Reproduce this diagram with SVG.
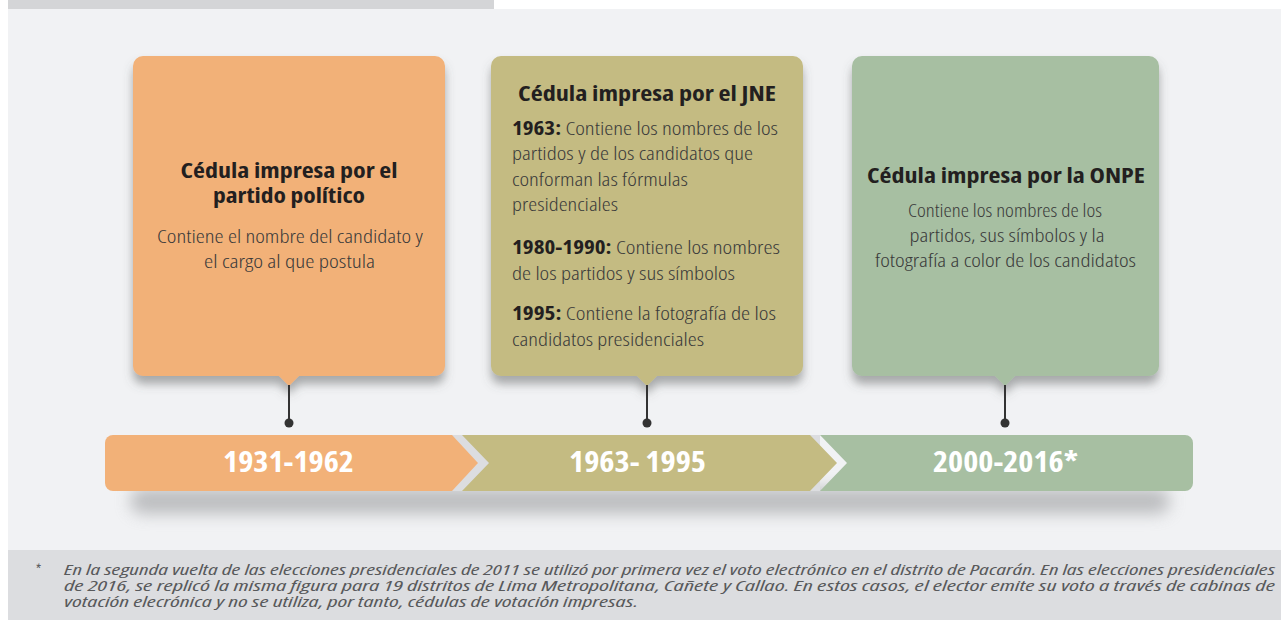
<svg xmlns="http://www.w3.org/2000/svg" width="1281" height="620" viewBox="0 0 1281 620">
<defs>
<filter id="sh" x="-10%" y="-10%" width="120%" height="130%">
<feDropShadow dx="0" dy="8" stdDeviation="5" flood-color="#5d5e61" flood-opacity="0.5"/>
</filter>
<filter id="blur" x="-20%" y="-100%" width="140%" height="300%">
<feGaussianBlur stdDeviation="8"/>
</filter>
<style>
.t{font-family:"Open Sans","Liberation Sans",sans-serif;font-stretch:condensed;font-weight:700;font-size:21px;fill:#231f20;text-anchor:middle}
.b{font-family:"Open Sans","Liberation Sans",sans-serif;font-stretch:condensed;font-weight:300;font-size:19px;fill:#3a3a3a}
.c{text-anchor:middle}
.bb{font-weight:700;fill:#231f20}
.y{font-family:"Open Sans","Liberation Sans",sans-serif;font-stretch:condensed;font-weight:700;font-size:28px;fill:#ffffff;text-anchor:middle}
.f{font-family:"Open Sans","Liberation Sans",sans-serif;font-stretch:semi-condensed;font-style:italic;font-size:14.5px;fill:#58595b}
.ln{stroke:#333333;stroke-width:2}
.dot{fill:#333333}
</style>
</defs>
<rect x="0" y="0" width="1281" height="620" fill="#ffffff"/>
<rect x="8" y="0" width="486" height="9" fill="#d4d5d7"/>
<rect x="8" y="9" width="1273" height="541" fill="#f1f2f4"/>
<rect x="8" y="550" width="1273" height="70" fill="#dcdde0"/>

<g id="node-1931">
<g filter="url(#sh)">
<rect x="133" y="56" width="312" height="320" rx="10" fill="#f2b178"/>
<polygon points="278,375 300,375 289,386" fill="#f2b178"/>
</g>
<text class="t" x="289" y="178" textLength="217" lengthAdjust="spacingAndGlyphs">Cédula impresa por el</text>
<text class="t" x="289" y="203" textLength="152" lengthAdjust="spacingAndGlyphs">partido político</text>
<text class="b c" x="290" y="243" textLength="266" lengthAdjust="spacingAndGlyphs">Contiene el nombre del candidato y</text>
<text class="b c" x="289.5" y="268" textLength="171" lengthAdjust="spacingAndGlyphs">el cargo al que postula</text>
</g>

<g id="node-1963">
<g filter="url(#sh)">
<rect x="491" y="56" width="312" height="320" rx="10" fill="#c4bb82"/>
<polygon points="636,375 658,375 647,386" fill="#c4bb82"/>
</g>
<text class="t" x="647" y="101" textLength="258" lengthAdjust="spacingAndGlyphs">Cédula impresa por el JNE</text>
<text class="b" x="512" y="135" textLength="266" lengthAdjust="spacingAndGlyphs"><tspan class="bb">1963:</tspan> Contiene los nombres de los</text>
<text class="b" x="512" y="160" textLength="241" lengthAdjust="spacingAndGlyphs">partidos y de los candidatos que</text>
<text class="b" x="512" y="186" textLength="176" lengthAdjust="spacingAndGlyphs">conforman las fórmulas</text>
<text class="b" x="512" y="211" textLength="106" lengthAdjust="spacingAndGlyphs">presidenciales</text>
<text class="b" x="512" y="254" textLength="268" lengthAdjust="spacingAndGlyphs"><tspan class="bb">1980-1990:</tspan> Contiene los nombres</text>
<text class="b" x="512" y="280" textLength="223" lengthAdjust="spacingAndGlyphs">de los partidos y sus símbolos</text>
<text class="b" x="512" y="320" textLength="264" lengthAdjust="spacingAndGlyphs"><tspan class="bb">1995:</tspan> Contiene la fotografía de los</text>
<text class="b" x="512" y="346" textLength="192" lengthAdjust="spacingAndGlyphs">candidatos presidenciales</text>
</g>

<g id="node-2000">
<g filter="url(#sh)">
<rect x="852" y="56" width="307" height="320" rx="10" fill="#a7bfa2"/>
<polygon points="994,375 1016,375 1005,386" fill="#a7bfa2"/>
</g>
<text class="t" x="1006" y="183" textLength="278" lengthAdjust="spacingAndGlyphs">Cédula impresa por la ONPE</text>
<text class="b c" x="1005" y="217" textLength="194" lengthAdjust="spacingAndGlyphs">Contiene los nombres de los</text>
<text class="b c" x="1007" y="242" textLength="195" lengthAdjust="spacingAndGlyphs">partidos, sus símbolos y la</text>
<text class="b c" x="1005.5" y="267" textLength="261" lengthAdjust="spacingAndGlyphs">fotografía a color de los candidatos</text>
</g>

<g id="timeline">
<rect x="130" y="488" width="1040" height="26" rx="13" fill="#9a9b9e" opacity="0.6" filter="url(#blur)"/>
<rect x="452" y="435" width="368" height="56" fill="#dcdde0"/>
<path d="M113,435 H452 L478,463 L452,491 H113 A8,8 0 0 1 105,483 V443 A8,8 0 0 1 113,435 Z" fill="#f2b178"/>
<path d="M462,435 H810 L837,463 L810,491 H462 L489,463 Z" fill="#c4bb82"/>
<path d="M820,435 H1185 A8,8 0 0 1 1193,443 V483 A8,8 0 0 1 1185,491 H820 L847,463 Z" fill="#a7bfa2"/>
<text class="y" x="288.5" y="472" textLength="131" lengthAdjust="spacingAndGlyphs">1931-1962</text>
<text class="y" x="637.5" y="472" textLength="137" lengthAdjust="spacingAndGlyphs">1963- 1995</text>
<text class="y" x="1005.5" y="472" textLength="145" lengthAdjust="spacingAndGlyphs">2000-2016*</text>
</g>

<g id="connectors">
<line class="ln" x1="289" y1="385" x2="289" y2="423"/>
<circle class="dot" cx="289" cy="423" r="4.5"/>
<line class="ln" x1="647" y1="385" x2="647" y2="423"/>
<circle class="dot" cx="647" cy="423" r="4.5"/>
<line class="ln" x1="1005" y1="385" x2="1005" y2="423"/>
<circle class="dot" cx="1005" cy="423" r="4.5"/>
</g>

<g id="footnote">
<text class="f" x="35" y="575">*</text>
<text class="f" x="64" y="575" textLength="1211" lengthAdjust="spacingAndGlyphs">En la segunda vuelta de las elecciones presidenciales de 2011 se utilizó por primera vez el voto electrónico en el distrito de Pacarán. En las elecciones presidenciales</text>
<text class="f" x="64" y="591" textLength="1211" lengthAdjust="spacingAndGlyphs">de 2016, se replicó la misma figura para 19 distritos de Lima Metropolitana, Cañete y Callao. En estos casos, el elector emite su voto a través de cabinas de</text>
<text class="f" x="64" y="607" textLength="574" lengthAdjust="spacingAndGlyphs">votación elecrónica y no se utiliza, por tanto, cédulas de votación impresas.</text>
</g>
</svg>
